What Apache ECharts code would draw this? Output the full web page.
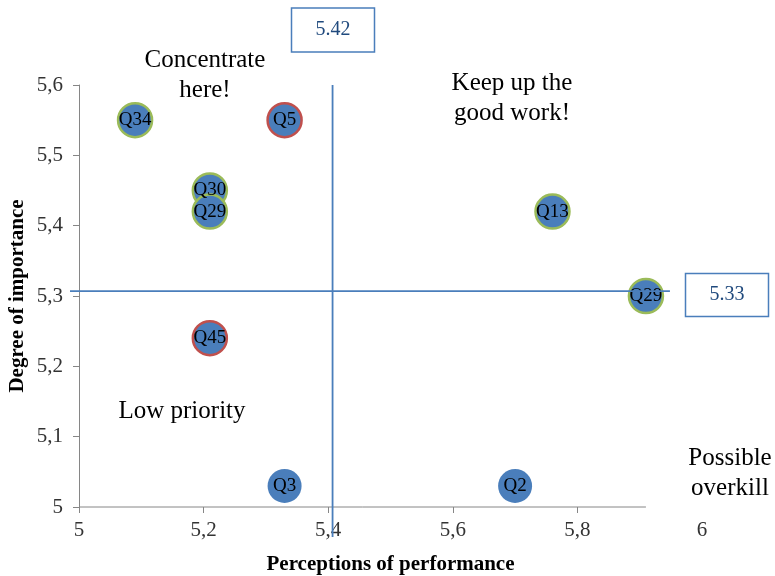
<!DOCTYPE html>
<html><head><meta charset="utf-8">
<script src="https://cdn.jsdelivr.net/npm/echarts@6/dist/echarts.min.js"></script>
<style>html,body{margin:0;padding:0;background:#fff}#c{width:775px;height:576px}</style>
</head><body><div id="c"></div>
<script>
// ---- data ----
const names      = ['Q34', 'Q5', 'Q30', 'Q29', 'Q45', 'Q3', 'Q13', 'Q29', 'Q2'];
const perf       = [5.09, 5.33, 5.21, 5.21, 5.21, 5.33, 5.76, 5.91, 5.70];
const importance = [5.55, 5.55, 5.45, 5.42, 5.24, 5.03, 5.42, 5.30, 5.03];
const ringGroup  = ['green', 'red', 'green', 'green', 'red', 'none', 'green', 'green', 'none'];
const xTickValues = [5, 5.2, 5.4, 5.6, 5.8];
const perfMean = 5.407, impMean = 5.307;
const perfMeanLabel = '5.42', impMeanLabel = '5.33';
const quadrantNotes = ['Concentrate\nhere!', 'Keep up the\ngood work!', 'Low priority', 'Possible\noverkill'];

// ---- chart ----
const FONT = '"Liberation Serif", "Times New Roman", serif';
const ringColor = { green: '#9BBB59', red: '#C0504D', none: 'rgba(0,0,0,0)' };
const fmt = v => String(Math.round(v * 10) / 10).replace('.', ',');

const chart = echarts.init(document.getElementById('c'));
const data = perf.map((x, i) => ({
  value: [x, importance[i]],
  name: names[i],
  itemStyle: { borderColor: ringColor[ringGroup[i]], borderWidth: ringGroup[i] === 'none' ? 0 : 2.5 }
}));

chart.setOption({
  backgroundColor: '#fff',
  animation: false,
  grid: { left: 79, right: 73, top: 85, bottom: 69, containLabel: false, outerBoundsMode: 'none' },
  xAxis: {
    type: 'value', min: 5, max: 6, interval: 0.2,
    name: 'Perceptions of performance', nameLocation: 'middle', nameGap: 47, nameMoveOverlap: false,
    nameTextStyle: { fontFamily: FONT, fontWeight: 'bold', fontSize: 21, color: '#000' },
    axisLine: { show: false },
    axisTick: { show: true, inside: false, length: 6, lineStyle: { color: '#868686' }, customValues: xTickValues },
    axisLabel: { formatter: fmt, fontFamily: FONT, fontSize: 21, color: '#333', margin: 13 },
    splitLine: { show: false }
  },
  yAxis: {
    type: 'value', min: 5, max: 5.6, interval: 0.1,
    name: 'Degree of importance', nameLocation: 'middle', nameGap: 51, nameRotate: 90, nameMoveOverlap: false,
    nameTextStyle: { fontFamily: FONT, fontWeight: 'bold', fontSize: 21, color: '#000' },
    axisLine: { show: true, lineStyle: { color: '#868686', width: 1 } },
    axisTick: { show: true, inside: false, length: 6, lineStyle: { color: '#868686' } },
    axisLabel: { formatter: fmt, fontFamily: FONT, fontSize: 21, color: '#333', margin: 16 },
    splitLine: { show: false }
  },
  series: [{
    type: 'scatter',
    symbolSize: 34,
    data: data,
    itemStyle: { color: '#4A7EBB', opacity: 1 },
    label: {
      show: true, position: 'inside', formatter: p => p.name,
      fontFamily: FONT, fontSize: 19, color: '#000'
    },
    clip: false
  }]
});

// reference lines, axis baseline and annotations
const px = v => chart.convertToPixel({ gridIndex: 0 }, v);
const pTop = px([perfMean, 5.6]);
const pBot = px([perfMean, 5]);
const hL = px([5, impMean]);
const hR = px([5.91, impMean]);
const base0 = px([5, 5]);
const base1 = px([5.91, 5]);
const lineStyle = { stroke: '#4A7EBB', lineWidth: 1.8 };
const txt = (x, y, text, size) => ({
  type: 'text', x: x, y: y, z: 20,
  style: { text: text, fontFamily: FONT, fontSize: size, fill: '#000', align: 'center', verticalAlign: 'middle', lineHeight: 30 }
});
const box = (cx, cy, w, h, text) => ({
  type: 'group', x: cx - w / 2, y: cy - h / 2, z: 20,
  children: [
    { type: 'rect', shape: { x: 0, y: 0, width: w, height: h }, style: { fill: '#fff', stroke: '#4A7EBB', lineWidth: 1.5 } },
    { type: 'text', x: w / 2, y: h / 2, style: { text: text, fontFamily: FONT, fontSize: 20, fill: '#1F497D', align: 'center', verticalAlign: 'middle' } }
  ]
});

chart.setOption({
  graphic: [
    { type: 'line', z: 10, shape: { x1: base0[0], y1: base0[1], x2: base1[0], y2: base1[1] }, style: { stroke: '#868686', lineWidth: 1 } },
    { type: 'line', z: 15, shape: { x1: pTop[0], y1: pTop[1], x2: pBot[0], y2: pBot[1] + 30 }, style: lineStyle },
    { type: 'line', z: 15, shape: { x1: hL[0] - 9, y1: hL[1], x2: hR[0] + 24, y2: hR[1] }, style: lineStyle },
    txt(205, 75, quadrantNotes[0], 25),
    txt(512, 98, quadrantNotes[1], 25),
    txt(182, 411, quadrantNotes[2], 25),
    txt(730, 473, quadrantNotes[3], 25),
    box(333, 30, 83, 44, perfMeanLabel),
    box(727, 295, 83, 43, impMeanLabel)
  ]
});
</script>
</body></html>
